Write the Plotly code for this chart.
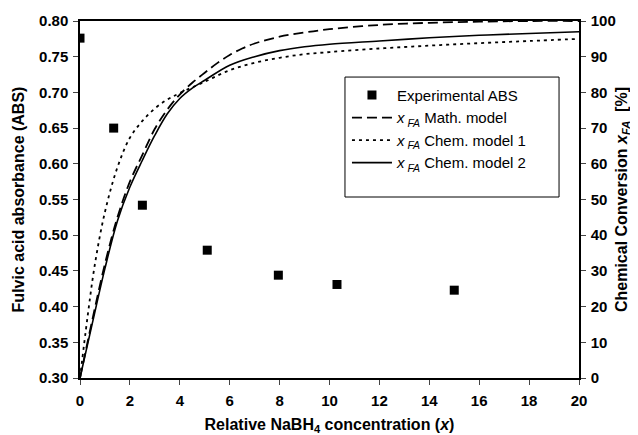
import plotly.graph_objects as go

# Experimental absorbance data
exp_x = [0, 1.35, 2.5, 5.1, 7.95, 10.3, 15.0]
exp_abs = [0.776, 0.650, 0.542, 0.479, 0.444, 0.431, 0.423]

# Math model conversion (%)
math_x = [0, 0.5, 1, 1.5, 2, 2.5, 3, 3.5, 4, 4.5, 5, 5.5, 6, 6.5, 7, 8, 9, 10, 12, 14, 16, 18, 20]
math_y = [0, 16.5, 32, 45, 55, 62.5, 69.8, 75.2, 79.4, 82.7, 85.5, 88.2, 90.5, 92.3, 93.7, 95.6, 96.8, 97.7, 98.9, 99.5, 99.8, 100, 100]

# Chem model 1 conversion (%)
chem1_x = [0, 0.3, 0.6, 1, 1.5, 2, 2.5, 3, 3.5, 4, 5, 6, 7, 8, 9, 10, 12, 14, 16, 18, 20]
chem1_y = [0, 17, 32, 46.5, 59, 67.3, 72, 75.5, 78, 79.8, 83, 86.2, 88.3, 89.7, 90.7, 91.3, 92.3, 93.1, 93.8, 94.4, 95]

# Chem model 2 conversion (%)
chem2_x = [0, 0.5, 1, 1.5, 2, 2.5, 3, 3.5, 4, 4.5, 5, 6, 7, 8, 9, 10, 12, 14, 16, 18, 20]
chem2_y = [0, 15.5, 30.7, 44, 53.5, 61, 68, 74, 78.3, 81.2, 83.4, 87.6, 90, 91.7, 92.8, 93.5, 94.4, 95.3, 96, 96.5, 97]

NB = "\u00a0"
FA_LEG = "<i>x</i><sub>" + NB + "<i>FA</i></sub>" + NB
FA = "<i>x</i><sub><i>FA</i></sub>"

fig = go.Figure()
fig.add_trace(go.Scatter(x=exp_x, y=exp_abs, mode="markers", name="Experimental ABS",
                         marker=dict(symbol="square", size=9, color="black"), yaxis="y"))
fig.add_trace(go.Scatter(x=math_x, y=math_y, mode="lines", name=FA_LEG + "Math. model",
                         line=dict(color="black", width=1.8, dash="10px,5px", shape="spline"), yaxis="y2"))
fig.add_trace(go.Scatter(x=chem1_x, y=chem1_y, mode="lines", name=FA_LEG + "Chem. model 1",
                         line=dict(color="black", width=1.8, dash="3px,4px", shape="spline"), yaxis="y2"))
fig.add_trace(go.Scatter(x=chem2_x, y=chem2_y, mode="lines", name=FA_LEG + "Chem. model 2",
                         line=dict(color="black", width=1.6, shape="spline"), yaxis="y2"))

tickfont = dict(family="Arial, Liberation Sans", size=15, color="black", weight="bold")
titlefont = dict(family="Arial, Liberation Sans", size=16, color="black", weight="bold")

# legend frame (paper coordinates)
fig.add_shape(type="rect", xref="paper", yref="paper", x0=0.531, x1=0.960, y0=0.507, y1=0.843,
              line=dict(color="black", width=1), fillcolor="white", layer="below")

fig.update_layout(
    width=630, height=427,
    margin=dict(l=72, r=59, t=13, b=57, autoexpand=False),
    paper_bgcolor="white", plot_bgcolor="white",
    font=dict(family="Arial, Liberation Sans", color="black"),
    xaxis=dict(range=[0, 20], dtick=2, ticks="outside", ticklen=5, tickwidth=1.2,
               showline=True, linecolor="black", linewidth=1.5, mirror=True, automargin=True,
               showgrid=False, zeroline=False, tickfont=tickfont, ticklabelstandoff=3,
               title=dict(text="Relative NaBH<sub>4</sub> concentration (<i>x</i>)", font=titlefont, standoff=11)),
    yaxis=dict(range=[0.3, 0.8], dtick=0.05, tickformat=".2f", ticks="outside", ticklen=5, tickwidth=1.2,
               showline=True, linecolor="black", linewidth=1.5, automargin=True,
               showgrid=False, zeroline=False, tickfont=tickfont, ticklabelstandoff=2,
               title=dict(text="Fulvic acid absorbance (ABS)", font=titlefont, standoff=10)),
    yaxis2=dict(range=[0, 100], dtick=10, overlaying="y", side="right", ticks="outside", ticklen=5, tickwidth=1.2,
                showline=True, linecolor="black", linewidth=1.5, automargin=True,
                showgrid=False, zeroline=False, tickfont=tickfont, ticklabelstandoff=2,
                title=dict(text="Chemical Conversion " + FA + "  [%]", font=titlefont, standoff=1)),
    legend=dict(x=0.535, y=0.838, xanchor="left", yanchor="top",
                bgcolor="rgba(0,0,0,0)", borderwidth=0, itemwidth=40,
                font=dict(family="Arial, Liberation Sans", size=15, color="black"),
                tracegroupgap=0),
    showlegend=True,
)

fig.write_html("out.html")
